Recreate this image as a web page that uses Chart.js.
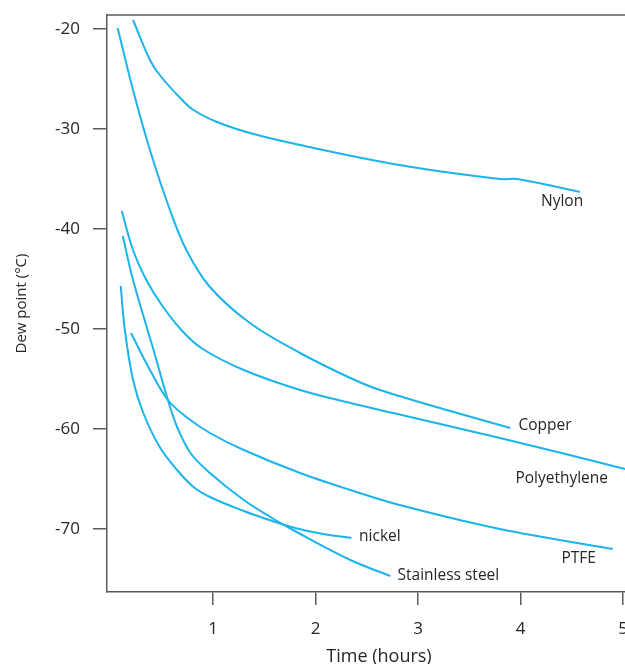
<!DOCTYPE html>
<html>
<head>
<meta charset="utf-8">
<script src="https://cdn.jsdelivr.net/npm/chart.js@4/dist/chart.umd.min.js"></script>
<style>
  html, body { margin: 0; padding: 0; background: #ffffff; overflow: hidden; }
  #wrap { position: absolute; left: 0; top: 0; width: 660px; height: 664px; }
</style>
</head>
<body>
<div id="wrap"><canvas id="c"></canvas></div>
<script>
// ---- data (x: hours, y: dew point °C) ----
const seriesNames = ["Nylon", "Copper", "Polyethylene", "PTFE", "Stainless steel", "nickel"];

const nylonX = [0.22, 0.385, 0.48, 0.68, 0.81, 1.04, 1.36, 1.85, 2.82, 3.80, 3.97, 4.58];
const nylonY = [-19.1, -23.1, -24.6, -26.9, -28.1, -29.3, -30.4, -31.6, -33.6, -35.0, -35.0, -36.3];

const copperX = [0.07, 0.22, 0.385, 0.58, 0.74, 0.97, 1.36, 1.85, 2.34, 2.63, 3.28, 3.90];
const copperY = [-19.9, -26.1, -32.1, -38.1, -42.1, -45.8, -49.4, -52.4, -54.9, -56.1, -58.1, -59.9];

const polyX = [0.11, 0.22, 0.35, 0.50, 0.70, 0.90, 1.30, 1.85, 2.34, 2.80, 3.30, 3.80, 4.40, 5.02];
const polyY = [-38.2, -42.1, -45.1, -47.6, -50.2, -52.0, -54.1, -56.1, -57.4, -58.5, -59.7, -60.9, -62.4, -64.0];

const ptfeX = [0.20, 0.385, 0.56, 0.74, 0.97, 1.30, 1.85, 2.34, 2.82, 3.80, 4.90];
const ptfeY = [-50.4, -54.1, -57.1, -58.8, -60.4, -62.1, -64.4, -66.1, -67.6, -70.0, -72.0];

const steelX = [0.12, 0.22, 0.42, 0.56, 0.65, 0.78, 0.97, 1.30, 1.56, 1.78, 2.34, 2.73];
const steelY = [-40.7, -45.1, -52.1, -57.1, -59.8, -62.4, -64.4, -67.1, -68.8, -70.1, -73.1, -74.7];

const nickelX = [0.10, 0.14, 0.22, 0.32, 0.48, 0.65, 0.81, 0.97, 1.30, 1.55, 1.80, 2.05, 2.35];
const nickelY = [-45.7, -50.1, -55.1, -58.4, -61.8, -64.1, -65.8, -66.8, -68.2, -69.1, -69.9, -70.45, -70.9];

const xTickValues = [1, 2, 3, 4, 5];
const yTickValues = [-70, -60, -50, -40, -30, -20];

// ---- presentation ----
const LINE = '#1bb4eb';
const TEXT = '#262626';
const AXIS = '#5a5a5a';
const FONT = "'Open Sans', 'DejaVu Sans', sans-serif";

const seriesX = [nylonX, copperX, polyX, ptfeX, steelX, nickelX];
const seriesY = [nylonY, copperY, polyY, ptfeY, steelY, nickelY];

// label anchors (data coordinates) and alignment
const labelAnchor = {
  "Nylon":           { x: 4.20, y: -37.3, align: 'left' },
  "Copper":          { x: 3.98, y: -59.7, align: 'left' },
  "Polyethylene":    { x: 3.95, y: -65.0, align: 'left' },
  "PTFE":            { x: 4.40, y: -73.0, align: 'left' },
  "Stainless steel": { x: 2.80, y: -74.7, align: 'left' },
  "nickel":          { x: 2.425, y: -70.8, align: 'left' }
};

const datasets = seriesNames.map((name, i) => ({
  label: name,
  data: seriesX[i].map((x, j) => ({ x: x, y: seriesY[i][j] })),
  borderColor: LINE,
  backgroundColor: LINE,
  borderWidth: 2,
  pointRadius: 0,
  fill: false,
  cubicInterpolationMode: 'default',
  tension: 0.35
}));

const decor = {
  id: 'decor',
  afterDraw(chart) {
    const ctx = chart.ctx;
    const a = chart.chartArea;
    const xs = chart.scales.x, ys = chart.scales.y;
    ctx.save();
    // top frame line
    ctx.strokeStyle = AXIS;
    ctx.lineWidth = 1.5;
    ctx.beginPath();
    ctx.moveTo(a.left, a.top);
    ctx.lineTo(a.right, a.top);
    ctx.stroke();
    // series labels
    ctx.fillStyle = TEXT;
    ctx.font = "15.5px " + FONT;
    ctx.textBaseline = 'middle';
    seriesNames.forEach(name => {
      const p = labelAnchor[name];
      ctx.textAlign = p.align;
      ctx.fillText(name, xs.getPixelForValue(p.x), ys.getPixelForValue(p.y));
    });
    ctx.restore();
  }
};

new Chart(document.getElementById('c'), {
  type: 'line',
  data: { datasets: datasets },
  options: {
    responsive: true,
    maintainAspectRatio: false,
    animation: false,
    layout: { padding: { left: 0, top: 15, right: 9, bottom: 0 } },
    plugins: { legend: { display: false }, tooltip: { enabled: false } },
    scales: {
      x: {
        type: 'linear',
        min: -0.034,
        max: 5.273,
        afterBuildTicks(s) { s.ticks = xTickValues.map(v => ({ value: v })); },
        afterFit(s) { s.height = 72; },
        ticks: { color: TEXT, font: { family: FONT, size: 17 }, padding: 14, maxRotation: 0, callback: v => v },
        grid: { drawOnChartArea: false, drawTicks: true, tickLength: 13, color: AXIS, lineWidth: 1.5 },
        border: { display: true, color: AXIS, width: 1.5 },
        title: { display: true, text: 'Time (hours)', color: TEXT, font: { family: FONT, size: 18, lineHeight: 1 }, padding: { top: 0, bottom: -2 } }
      },
      y: {
        type: 'linear',
        min: -76.3,
        max: -18.6,
        afterBuildTicks(s) { s.ticks = yTickValues.map(v => ({ value: v })); },
        afterFit(s) { s.width = 107; s.paddingTop = 0; s.paddingBottom = 0; },
        ticks: { color: TEXT, font: { family: FONT, size: 17 }, padding: 13, callback: v => v },
        grid: { drawOnChartArea: false, drawTicks: true, tickLength: 14, color: AXIS, lineWidth: 1.5 },
        border: { display: true, color: AXIS, width: 1.5 },
        title: { display: true, text: 'Dew point (°C)', color: TEXT, font: { family: FONT, size: 15 }, padding: { top: 13, bottom: 0 } }
      }
    }
  },
  plugins: [decor]
});
</script>
</body>
</html>
